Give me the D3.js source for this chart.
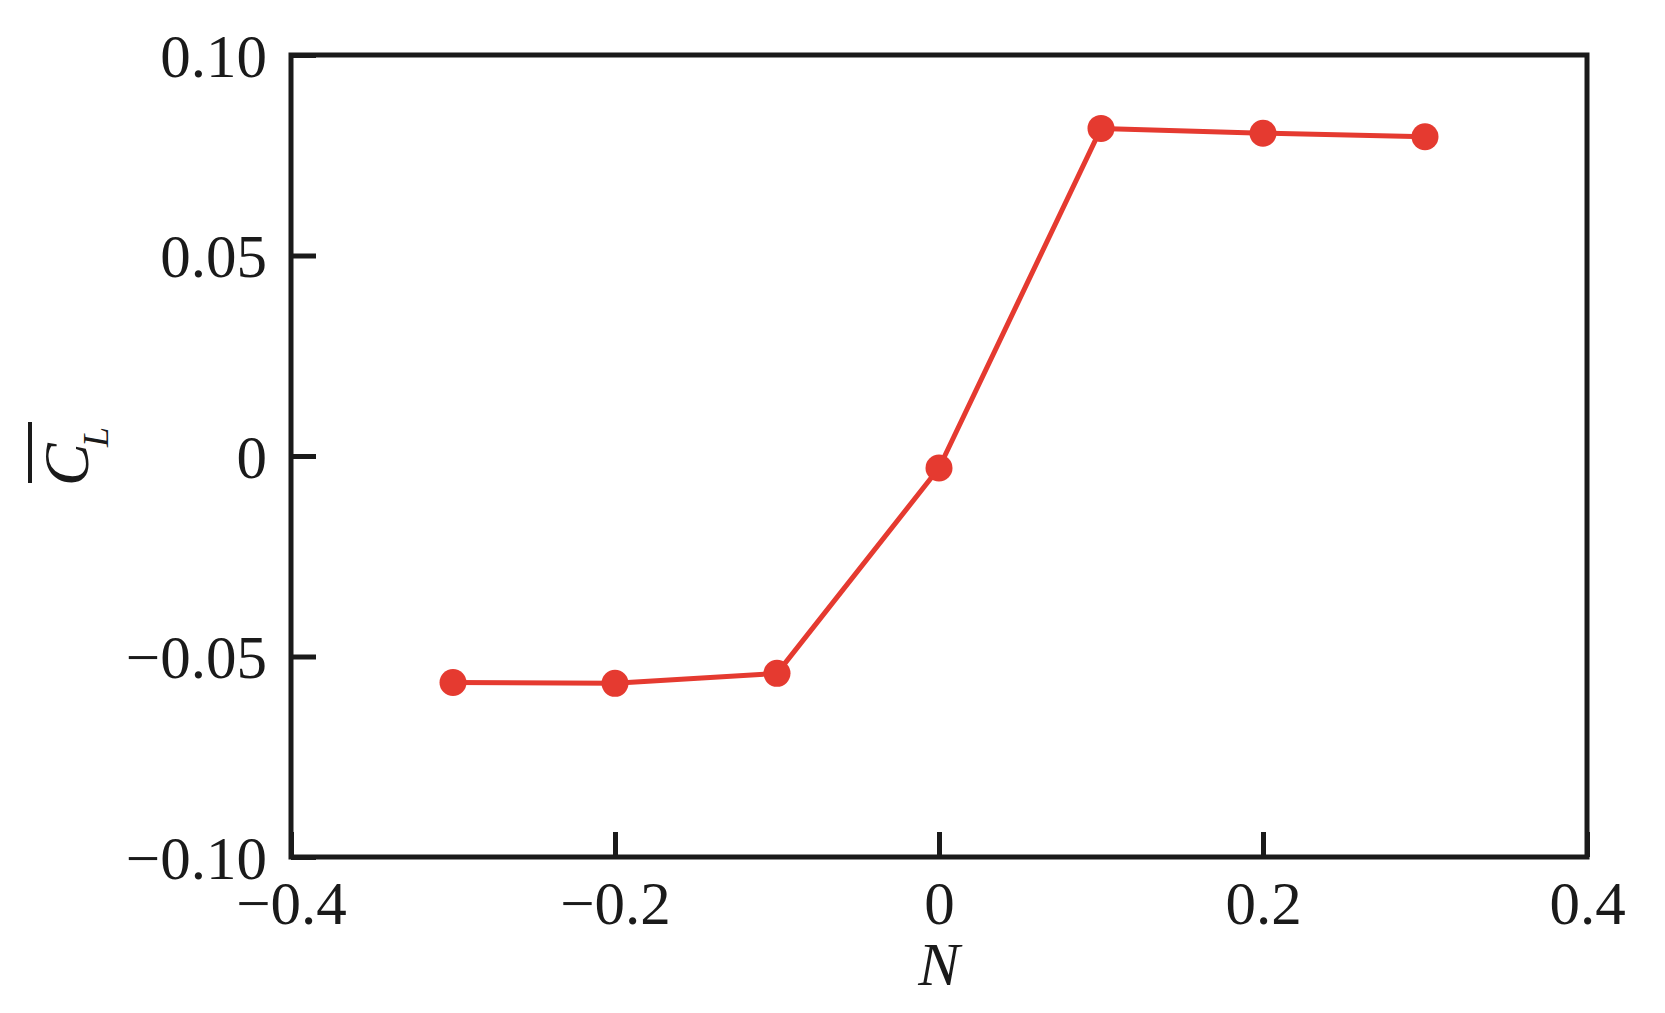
<!DOCTYPE html>
<html>
<head>
<meta charset="utf-8">
<script src="https://cdn.jsdelivr.net/npm/d3@7/dist/d3.min.js"></script>
<style>
  html, body { margin: 0; padding: 0; background: #fff; }
  svg { display: block; }
</style>
</head>
<body>
<svg id="chart" width="1665" height="1013"></svg>
<script>
// Data
const nValues = [-0.3, -0.2, -0.1, 0, 0.1, 0.2, 0.3];
const clValues = [-0.0565, -0.0567, -0.0542, -0.0030, 0.0817, 0.0805, 0.0796];
const xTicks = [-0.4, -0.2, 0, 0.2, 0.4];
const xTickLabels = ["\u22120.4", "\u22120.2", "0", "0.2", "0.4"];
const yTicks = [-0.10, -0.05, 0, 0.05, 0.10];
const yTickLabels = ["\u22120.10", "\u22120.05", "0", "0.05", "0.10"];

const svg = d3.select("#chart");
const m = { left: 291, right: 1587, top: 55, bottom: 857 };
const font = "'Liberation Serif', 'Times New Roman', serif";
const ink = "#1a1a1a";
const red = "#e53a30";

const x = d3.scaleLinear().domain([-0.4, 0.4]).range([m.left, m.right]);
const y = d3.scaleLinear().domain([-0.10, 0.10]).range([m.bottom, m.top]);

// Frame
svg.append("rect")
  .attr("x", m.left).attr("y", m.top)
  .attr("width", m.right - m.left).attr("height", m.bottom - m.top)
  .attr("fill", "none").attr("stroke", ink).attr("stroke-width", 5);

// X axis
const xAxis = d3.axisBottom(x).tickValues(xTicks)
  .tickFormat((d, i) => xTickLabels[i]).tickSizeInner(-25).tickSizeOuter(0).tickPadding(0);
const gx = svg.append("g").attr("transform", `translate(0,${m.bottom})`).call(xAxis);
gx.select(".domain").remove();
gx.selectAll(".tick line").attr("stroke", ink).attr("stroke-width", 5);
gx.selectAll(".tick text")
  .attr("font-family", font).attr("font-size", 61).attr("fill", ink)
  .attr("dy", null).attr("y", 67);

// Y axis
const yAxis = d3.axisLeft(y).tickValues(yTicks)
  .tickFormat((d, i) => yTickLabels[i]).tickSizeInner(-25).tickSizeOuter(0).tickPadding(0);
const gy = svg.append("g").attr("transform", `translate(${m.left},0)`).call(yAxis);
gy.select(".domain").remove();
gy.selectAll(".tick line").attr("stroke", ink).attr("stroke-width", 5);
gy.selectAll(".tick text")
  .attr("font-family", font).attr("font-size", 61).attr("fill", ink)
  .attr("x", -24).attr("dy", null).attr("y", 21);

// Line
const line = d3.line().x((d, i) => x(nValues[i])).y(d => y(d));
svg.append("path")
  .datum(clValues)
  .attr("d", line)
  .attr("fill", "none").attr("stroke", red).attr("stroke-width", 5)
  .attr("stroke-linejoin", "round");

// Markers
svg.selectAll("circle.pt")
  .data(clValues)
  .enter().append("circle")
  .attr("class", "pt")
  .attr("cx", (d, i) => x(nValues[i]))
  .attr("cy", d => y(d))
  .attr("r", 13.5)
  .attr("fill", red);

// X label
svg.append("text")
  .attr("x", (m.left + m.right) / 2).attr("y", 985)
  .attr("text-anchor", "middle")
  .attr("font-family", font).attr("font-style", "italic").attr("font-size", 62)
  .attr("fill", ink)
  .text("N");

// Y label: C with overline and subscript L
const yl = svg.append("g").attr("transform", "translate(88,452) rotate(-90)");
yl.append("text")
  .attr("x", -34).attr("y", 0)
  .attr("font-family", font).attr("font-style", "italic").attr("font-size", 64)
  .attr("fill", ink)
  .text("C");
yl.append("text")
  .attr("x", 5).attr("y", 20)
  .attr("font-family", font).attr("font-style", "italic").attr("font-size", 36)
  .attr("fill", ink)
  .text("L");
yl.append("line")
  .attr("x1", -31).attr("x2", 30).attr("y1", -58).attr("y2", -58)
  .attr("stroke", ink).attr("stroke-width", 4);
</script>
</body>
</html>
